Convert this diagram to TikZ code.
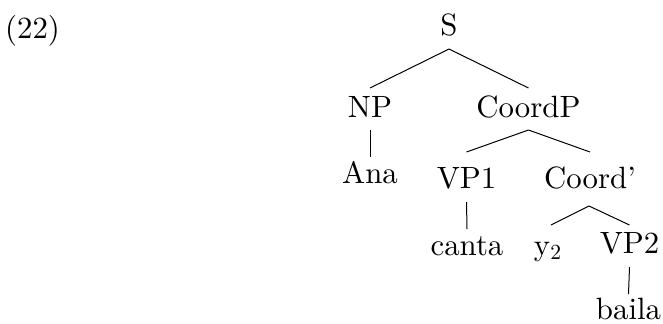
\documentclass[tikz,border=0pt]{standalone}
\usepackage{fontspec}
\newfontfamily\lmten{lmroman10-regular.otf}[Ligatures=TeX]
\usetikzlibrary{calc}
\begin{document}
\begin{tikzpicture}[x=0.5pt,y=-0.5pt,
  lab/.style={anchor=base,inner sep=0pt,font=\lmten\fontsize{15.4}{18}\selectfont},
  edge/.style={line width=0.5pt}]
\useasboundingbox (0,0) rectangle (663,323);
\node[lab] (ex) at (32.5,38) {(22)};
\node[lab] (S) at (449,35) {S};
\node[lab] (NP) at (370,117) {NP};
\node[lab] (CoordP) at (528.5,117) {CoordP};
\node[lab] (Ana) at (370,183) {Ana};
\node[lab] (VP1) at (466.5,188) {VP1};
\node[lab] (Coordb) at (590,188) {Coord’};
\node[lab] (canta) at (467,255) {canta};
\node[lab] (y2) at (548,255) {y\textsubscript{2}};
\node[lab] (VP2) at (629.5,253) {VP2};
\node[lab] (baila) at (628.5,319) {baila};
\draw[edge] ($(S.base)+(0,14)$) -- ($(NP.base)+(0,-29)$);
\draw[edge] ($(S.base)+(0,14)$) -- ($(CoordP.base)+(0,-29)$);
\draw[edge] ($(NP.base)+(0,13)$) -- ($(Ana.base)+(0,-26)$);
\draw[edge] ($(CoordP.base)+(0,13)$) -- ($(VP1.base)+(0,-36)$);
\draw[edge] ($(CoordP.base)+(0,13)$) -- ($(Coordb.base)+(0,-36)$);
\draw[edge] ($(VP1.base)+(0,14)$) -- ($(canta.base)+(0,-26)$);
\draw[edge] ($(Coordb.base)+(-1,18)$) -- ($(y2.base)+(3,-30)$);
\draw[edge] ($(Coordb.base)+(-1,18)$) -- ($(VP2.base)+(0,-28)$);
\draw[edge] ($(VP2.base)+(0,14)$) -- ($(baila.base)+(0,-25)$);
\end{tikzpicture}
\end{document}
